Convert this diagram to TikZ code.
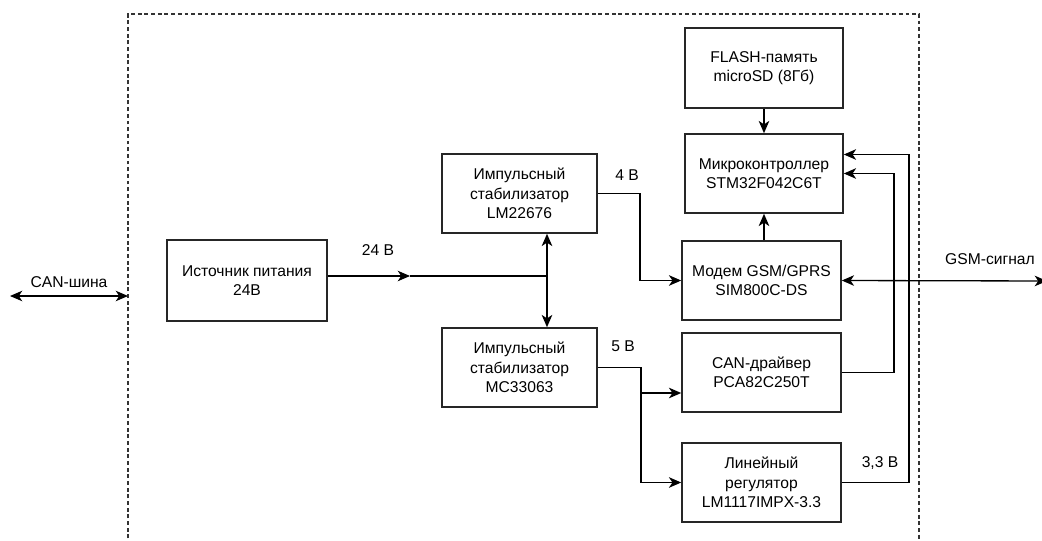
\documentclass[tikz,border=0pt]{standalone}
\usepackage{fontspec}
\setmainfont{Liberation Sans}
\usetikzlibrary{arrows.meta,calc}

\begin{document}
\begin{tikzpicture}[x=0.02cm,y=-0.02cm,
  >={Stealth[length=7pt,width=6pt,inset=2pt]},
  line width=0.75pt,
  blk/.style={draw=black!85,line width=0.9pt,align=center,minimum height=1.58cm,
    font=\fontsize{8.9}{11}\selectfont,inner sep=1pt},
  lbl/.style={font=\fontsize{8.9}{10}\selectfont,inner sep=1pt}]
\useasboundingbox (0,0) rectangle (1042,541);

% outer frame
\draw[black!80,line width=0.6pt,dash pattern=on 2.2pt off 1.6pt]
  (128,545) -- (128,14) -- (919,14) -- (919,545);

% blocks
\node[blk,minimum width=3.2cm,minimum height=1.62cm] (src) at (247,280.5) {Источник питания\\24В};
\node[blk,minimum width=3.1cm] (stab1) at (519.5,193.5) {Импульсный\\стабилизатор\\LM22676};
\node[blk,minimum width=3.1cm] (stab2) at (519.5,367.5) {Импульсный\\стабилизатор\\MC33063};
\node[blk,minimum width=3.16cm,minimum height=1.6cm] (flash) at (764,68) {FLASH-память\\microSD (8Гб)};
\node[blk,minimum width=3.16cm] (mcu) at (764,173.5) {Микроконтроллер\\STM32F042C6T};
\node[blk,minimum width=3.18cm] (modem) at (761.5,280.5) {Модем GSM/GPRS\\SIM800C-DS};
\node[blk,minimum width=3.18cm] (can) at (761.5,372.5) {CAN-драйвер\\PCA82C250T};
\node[blk,minimum width=3.18cm] (lin) at (761.5,482.5) {Линейный\\регулятор\\LM1117IMPX-3.3};

% helper points
\coordinate (canl) at (10,296);
\coordinate (canr) at (128,296);
\coordinate (mid) at (410,276);
\coordinate (jn) at (547,276);
\coordinate (br) at (641,393);
\coordinate (gsm) at (1047,281);

% CAN bus
\draw[<->] (canl) -- (canr);
\node[lbl] (canbus) at (69,282) {CAN-шина};

% 24 V
\draw[->] (src.east |- mid) -- (mid);
\draw (mid) -- (jn);
\draw[->] (jn) -- (stab1.south -| jn);
\draw[->] (jn) -- (stab2.north -| jn);
\node[lbl] (v24) at (378,250) {24 В};

% 4 V
\draw[->] (stab1.east) -| (640,237) |- (modem.west);
\node[lbl] (v4) at (627,175) {4 В};

% 5 V
\draw[->] (stab2.east) -| (br) -- (can.west |- br);
\draw[->] (br) |- (lin.west);
\node[lbl] (v5) at (623,346) {5 В};

% MCU links
\draw[->] (flash.south) -- (mcu.north);
\draw[->] (mcu.south |- modem.north) -- (mcu.south);
\draw[->] (can.east) -| (894,250) |- (mcu.east);
\draw[->] (lin.east) -| (909,300) |- ($(mcu.east)+(0,-19)$);
\node[lbl] (v33) at (880,463) {3,3 В};

% GSM
\draw[<->] (modem.east) -- (gsm);
\node[lbl] (gsmsig) at (990,259) {GSM-сигнал};
\end{tikzpicture}
\end{document}
